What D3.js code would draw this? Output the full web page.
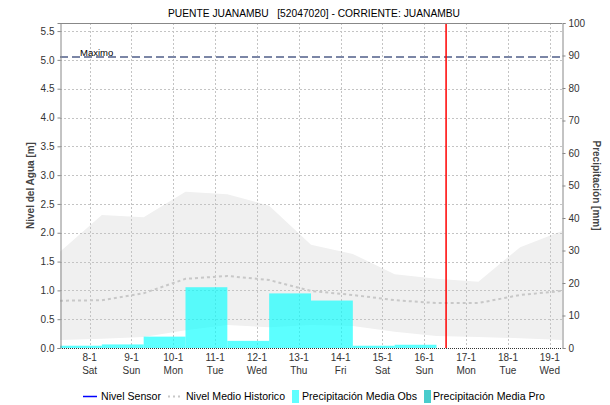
<!DOCTYPE html>
<html>
<head>
<meta charset="utf-8">
<script src="https://cdn.jsdelivr.net/npm/d3@7"></script>
<style>
  body { margin: 0; background: #fff; }
  text { font-family: "Liberation Sans", Arial, sans-serif; fill: #000; }
</style>
</head>
<body>
<div class="chartHolder"></div>
<script>
var titulo = "PUENTE JUANAMBU   [52047020] - CORRIENTE: JUANAMBU";
var dias = ["2022-01-08", "2022-01-09", "2022-01-10", "2022-01-11", "2022-01-12", "2022-01-13",
            "2022-01-14", "2022-01-15", "2022-01-16", "2022-01-17", "2022-01-18", "2022-01-19"];
// historical band + mean, one point per hydrological day (07:00)
var fechasHist = ["2022-01-07T07:00", "2022-01-08T07:00", "2022-01-09T07:00", "2022-01-10T07:00",
                  "2022-01-11T07:00", "2022-01-12T07:00", "2022-01-13T07:00", "2022-01-14T07:00",
                  "2022-01-15T07:00", "2022-01-16T07:00", "2022-01-17T07:00", "2022-01-18T07:00",
                  "2022-01-19T07:00"];
var histMax = [1.67, 2.31, 2.27, 2.71, 2.67, 2.47, 1.79, 1.63, 1.28, 1.20, 1.15, 1.75, 2.03];
var histMin = [0.14, 0.16, 0.19, 0.31, 0.40, 0.36, 0.40, 0.38, 0.28, 0.21, 0.19, 0.17, 0.14];
var nivelMedio = [0.82, 0.83, 0.95, 1.20, 1.25, 1.18, 0.99, 0.92, 0.83, 0.78, 0.78, 0.92, 0.99];
var nivelSensor = [];
// daily rain, bar starts at 07:00 of the given day
var fechasPrecip = ["2022-01-07T07:00", "2022-01-08T07:00", "2022-01-09T07:00", "2022-01-10T07:00",
                    "2022-01-11T07:00", "2022-01-12T07:00", "2022-01-13T07:00", "2022-01-14T07:00",
                    "2022-01-15T07:00"];
var precipObs = [0.7, 1.1, 3.5, 18.7, 2.2, 16.8, 14.6, 0.7, 1.0];
var nivelMaximo = 5.05;
var ahora = "2022-01-16T12:30";
var inicio = "2022-01-07T07:00", fin = "2022-01-19T07:00";
var legendTxt = ["Nivel Sensor", "Nivel Medio Historico", "Precipitación Media Obs", "Precipitación Media Pro"];

var svgW = 610, svgH = 405;
var margin = { top: 23, right: 48, bottom: 57, left: 60 };
var w = svgW - margin.left - margin.right,
    h = svgH - margin.top - margin.bottom;

var parseT = d3.timeParse("%Y-%m-%dT%H:%M");
var parseD = d3.timeParse("%Y-%m-%d");
var dayFmt = d3.timeFormat("%-d-%-m");
var wdNames = ["Sun", "Mon", "Tue", "Wed", "Thu", "Fri", "Sat"];

var svg = d3.select(".chartHolder").append("svg").attr("width", svgW).attr("height", svgH);
var g = svg.append("g").attr("transform", "translate(" + margin.left + "," + margin.top + ")");

var xScale = d3.scaleTime().domain([parseT(inicio), parseT(fin)]).range([0, w]);
var yL = d3.scaleLinear().domain([0, 5.64]).range([h, 0]);
var yR = d3.scaleLinear().domain([0, 100]).range([h, 0]);

var hist = fechasHist.map(function (d, i) {
  return { t: parseT(d), max: histMax[i], min: histMin[i], med: nivelMedio[i] };
});

// historical band
g.append("path").datum(hist)
  .attr("d", d3.area().x(function (d) { return xScale(d.t); })
    .y0(function (d) { return yL(d.min); }).y1(function (d) { return yL(d.max); }))
  .style("fill", "#f0f0f0");

// grid
var tickDates = dias.map(parseD);
g.selectAll(".vgrid").data(tickDates).enter().append("line").attr("class", "vgrid")
  .attr("x1", function (d) { return Math.round(xScale(d)) + 0.5; }).attr("x2", function (d) { return Math.round(xScale(d)) + 0.5; })
  .attr("y1", 0).attr("y2", h)
  .style("stroke", "#c4c4c4").style("stroke-dasharray", "2,2");
var yTicks = d3.range(0.5, 5.51, 0.5);
g.selectAll(".hgrid").data(yTicks).enter().append("line").attr("class", "hgrid")
  .attr("x1", 0).attr("x2", w)
  .attr("y1", function (d) { return Math.round(yL(d)) + 0.5; }).attr("y2", function (d) { return Math.round(yL(d)) + 0.5; })
  .style("stroke", "#c4c4c4").style("stroke-dasharray", "2,2");

// rain bars
var oneDay = 24 * 3600 * 1000;
g.selectAll(".bar").data(precipObs).enter().append("rect").attr("class", "bar")
  .attr("x", function (d, i) { return xScale(parseT(fechasPrecip[i])); })
  .attr("width", function (d, i) {
    var t0 = parseT(fechasPrecip[i]);
    return xScale(new Date(t0.getTime() + oneDay)) - xScale(t0);
  })
  .attr("y", function (d) { return yR(d); })
  .attr("height", function (d) { return h - yR(d); })
  .style("fill", "#00ffff").style("opacity", 0.64);

// mean historical level
g.append("path").datum(hist)
  .attr("d", d3.line().x(function (d) { return xScale(d.t); }).y(function (d) { return yL(d.med); }))
  .style("fill", "none").style("stroke", "#c8c8c8").style("stroke-width", 2).style("stroke-dasharray", "3,3");

// sensor level (no data)
g.append("path").datum(nivelSensor)
  .attr("d", d3.line().x(function (d) { return xScale(d.t); }).y(function (d) { return yL(d.v); }))
  .style("fill", "none").style("stroke", "#0000ff");

// maximum level
g.append("line").attr("x1", 0).attr("x2", w).attr("y1", yL(nivelMaximo)).attr("y2", yL(nivelMaximo))
  .style("stroke", "#7b86a6").style("stroke-width", 2).style("stroke-dasharray", "8,4");
g.append("text").attr("x", 20).attr("y", yL(nivelMaximo) - 1).text("Maximo")
  .attr("font-size", "9.5px");

// now
g.append("line").attr("x1", xScale(parseT(ahora))).attr("x2", xScale(parseT(ahora)))
  .attr("y1", 0).attr("y2", h).style("stroke", "#ff0000").style("stroke-width", 1.5);

// frame
g.append("line").attr("x1", 0).attr("x2", w).attr("y1", 0.5).attr("y2", 0.5).style("stroke", "#888");
g.append("line").attr("x1", 0).attr("x2", w).attr("y1", h + 0.5).attr("y2", h + 0.5)
  .style("stroke", "#333").style("stroke-dasharray", "1,1");

// axes
var yAxisL = d3.axisLeft(yL).tickValues(d3.range(0, 5.51, 0.5)).tickFormat(d3.format(".1f")).tickSize(3).tickPadding(3);
var gl = g.append("g").attr("transform", "translate(0.5,0)").call(yAxisL);
var yAxisR = d3.axisRight(yR).tickValues(d3.range(0, 101, 10)).tickSize(3).tickPadding(3);
var gr = g.append("g").attr("transform", "translate(" + (w + 0.5) + ",0)").call(yAxisR);
[gl, gr].forEach(function (a) {
  a.attr("font-family", null);
  a.select(".domain").style("stroke", "#888");
  a.selectAll(".tick line").style("stroke", "#888");
  a.selectAll("text").attr("font-size", "10px").style("fill", "#333");
});

var xAxis = g.append("g").attr("transform", "translate(0," + h + ")");
var xt = xAxis.selectAll(".xt").data(tickDates).enter().append("text").attr("class", "xt")
  .attr("text-anchor", "middle").attr("font-size", "10px").style("fill", "#333")
  .attr("transform", function (d) { return "translate(" + xScale(d) + ",0)"; });
xt.append("tspan").attr("x", 0).attr("y", 13).text(function (d) { return dayFmt(d); });
xt.append("tspan").attr("x", 0).attr("y", 26).text(function (d) { return wdNames[d.getDay()]; });

// titles
svg.append("text").attr("x", 168).attr("y", 17).attr("font-size", "11.5px")
  .attr("textLength", 292).attr("lengthAdjust", "spacingAndGlyphs")
  .style("white-space", "pre").text(titulo);
svg.append("text").attr("transform", "translate(34," + (margin.top + h / 2) + ") rotate(-90)")
  .attr("text-anchor", "middle").attr("font-size", "10px").attr("font-weight", "bold").style("fill", "#444")
  .text("Nivel del Agua [m]");
svg.append("text").attr("transform", "translate(593," + (margin.top + h / 2) + ") rotate(90)")
  .attr("text-anchor", "middle").attr("font-size", "10px").attr("font-weight", "bold").style("fill", "#444")
  .text("Precipitación [mm]");

// legend
var lg = svg.append("g").attr("transform", "translate(0,396)");
var lgTxtX = [101, 186, 302, 433], lgTxtW = [60, 99, 115, 112];
lg.append("line").attr("x1", 83).attr("x2", 97).attr("y1", 0.5).attr("y2", 0.5).style("stroke", "#0000ff").style("stroke-width", 1.5);
lg.append("line").attr("x1", 168).attr("x2", 181).attr("y1", 0.5).attr("y2", 0.5).style("stroke", "#c8c8c8").style("stroke-width", 2).style("stroke-dasharray", "2,3");
lg.append("rect").attr("x", 292).attr("y", -6).attr("width", 7).attr("height", 13).style("fill", "#5fffff");
lg.append("rect").attr("x", 424).attr("y", -6).attr("width", 7).attr("height", 13).style("fill", "#48cccc");
lg.selectAll(".desc").data(legendTxt).enter().append("text").attr("class", "desc")
  .attr("x", function (d, i) { return lgTxtX[i]; }).attr("y", 4)
  .attr("textLength", function (d, i) { return lgTxtW[i]; }).attr("lengthAdjust", "spacingAndGlyphs")
  .attr("font-size", "11px").text(function (d) { return d; });
</script>
</body>
</html>
